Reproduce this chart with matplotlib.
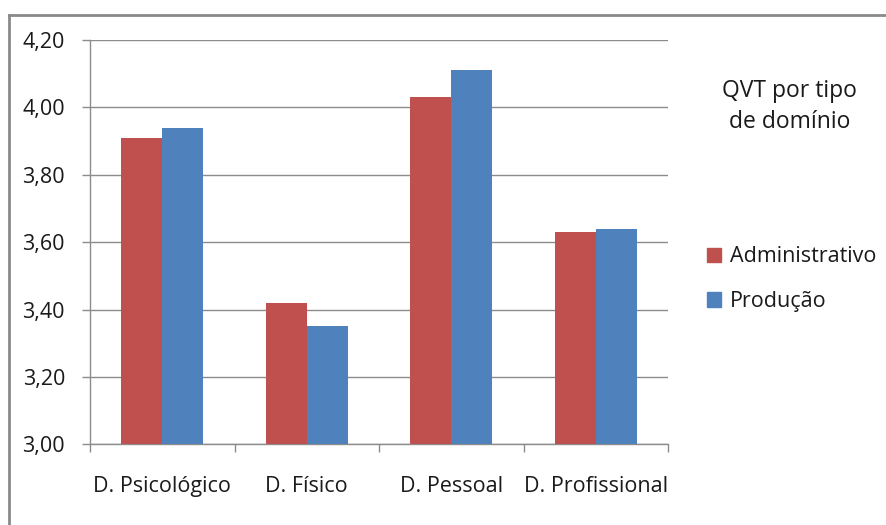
import matplotlib
matplotlib.use("Agg")
import matplotlib.pyplot as plt
from matplotlib.lines import Line2D
from matplotlib.patches import Patch
import numpy as np

# QVT scores per domain and sector
categories = ["D. Psicológico", "D. Físico", "D. Pessoal", "D. Profissional"]
administrativo = [3.91, 3.42, 4.03, 3.63]
producao = [3.94, 3.35, 4.11, 3.64]
yticks = [3.00, 3.20, 3.40, 3.60, 3.80, 4.00, 4.20]

RED = "#C0504D"
BLUE = "#4F81BD"
GRID = "#8C8C8C"
TEXT = "#1A1A1A"

plt.rcParams["font.family"] = ["Open Sans", "DejaVu Sans"]

fig = plt.figure(figsize=(8.87, 5.25), dpi=100)
ax = fig.add_axes([0.1015, 0.1537, 0.6516, 0.7701])

x = np.arange(len(categories))
w = 0.284
ax.bar(x - w / 2, administrativo, w, color=RED, zorder=3)
ax.bar(x + w / 2, producao, w, color=BLUE, zorder=3)

ax.set_xlim(-0.5, len(categories) - 0.5)
ax.set_ylim(3.0, 4.2)
ax.set_yticks(yticks)
ax.set_yticklabels([f"{v:.2f}".replace(".", ",") for v in yticks])
ax.yaxis.grid(True, color=GRID, linewidth=1.0, zorder=0)

# category labels centred, tick marks on the group boundaries
ax.set_xticks(x)
ax.set_xticklabels(categories)
ax.set_xticks(np.arange(-0.5, len(categories)), minor=True)
ax.tick_params(axis="x", which="major", length=0, pad=23)
ax.tick_params(axis="x", which="minor", length=6, width=1.0, color=GRID)
ax.tick_params(axis="y", length=6, width=1.0, color=GRID, pad=12)
ax.tick_params(labelsize=15.5, labelcolor=TEXT)

for side in ("top", "right"):
    ax.spines[side].set_visible(False)
for side in ("left", "bottom"):
    ax.spines[side].set_color(GRID)
    ax.spines[side].set_linewidth(1.0)

handles = [Patch(color=RED), Patch(color=BLUE)]
fig.legend(handles, ["Administrativo", "Produção"], loc="upper left",
           bbox_to_anchor=(0.787, 0.547), frameon=False, fontsize=15.5,
           handlelength=0.65, handleheight=0.65, handletextpad=0.45,
           labelspacing=1.1, labelcolor=TEXT, borderaxespad=0)

fig.text(0.890, 0.797, "QVT por tipo\nde domínio", ha="center", va="center",
         fontsize=16.5, color=TEXT, linespacing=1.35)

# chart frame along top and left edges
fig.add_artist(Line2D([0.0101, 1.0], [0.9714, 0.9714], color="#8A8A8A",
                      linewidth=2.0, transform=fig.transFigure))
fig.add_artist(Line2D([0.0101, 0.0101], [0.0, 0.9714], color="#8A8A8A",
                      linewidth=2.0, transform=fig.transFigure))

fig.savefig("out.png", dpi=100, facecolor="white")
